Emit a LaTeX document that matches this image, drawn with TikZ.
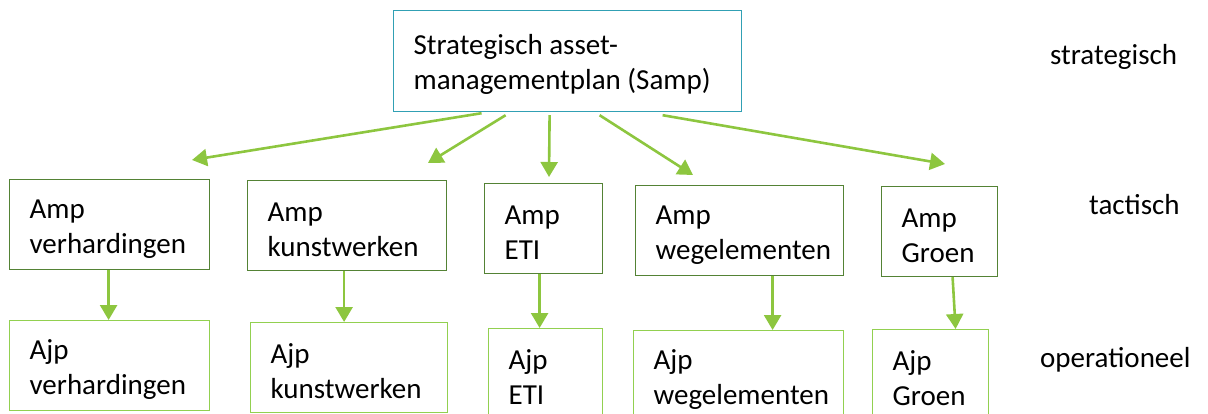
\documentclass[tikz,border=0pt]{standalone}
\usepackage{fontspec}
\setmainfont{Carlito}
\usetikzlibrary{arrows.meta}

\hyphenpenalty=10000

\definecolor{sampblue}{RGB}{49,160,180}
\definecolor{ampgreen}{RGB}{84,130,53}
\definecolor{ajpgreen}{RGB}{146,208,80}
\definecolor{pijlgreen}{RGB}{141,198,63}

\tikzset{
  planbox/.style={draw, line width=1.2pt, anchor=north west, align=flush left,
    inner xsep=20pt, inner ysep=0pt, minimum height=90pt, text height=27pt,
    font=\fontsize{29}{35}\selectfont},
  sampbox/.style={planbox, draw=sampblue, minimum height=101pt},
  ampbox/.style={planbox, draw=ampgreen},
  ajpbox/.style={planbox, draw=ajpgreen},
  niveau/.style={anchor=base west, inner sep=0pt, font=\fontsize{29}{35}\selectfont},
  pijl/.style={draw=pijlgreen, line width=2.6pt, -{Triangle[length=15pt,width=17pt]}}
}

\begin{document}
\begin{tikzpicture}[x=1pt,y=-1pt]
\useasboundingbox (0,0) rectangle (1208,414);
\clip (0,0) rectangle (1208,414);

\node[sampbox, text width=308pt] (samp) at (393,10) {Strategisch asset-\\managementplan (Samp)};

\node[ampbox, text width=160pt] (amp1) at (9,179) {Amp\\verhardingen};
\node[ampbox, text width=159pt] (amp2) at (247,180) {Amp\\kunstwerken};
\node[ampbox, text width=78pt] (amp3) at (484,183) {Amp\\ETI};
\node[ampbox, text width=168pt] (amp4) at (635,185) {Amp\\wegelementen};
\node[ampbox, text width=76pt] (amp5) at (881,186) {Amp\\Groen};

\node[ajpbox, text width=160pt] (ajp1) at (9,320) {Ajp\\verhardingen};
\node[ajpbox, text width=157pt] (ajp2) at (250,322) {Ajp\\kunstwerken};
\node[ajpbox, text width=74pt] (ajp3) at (488,328) {Ajp\\ETI};
\node[ajpbox, text width=170pt] (ajp4) at (633,330) {Ajp\\wegelementen};
\node[ajpbox, text width=76pt] (ajp5) at (872,329) {Ajp\\Groen};

\node[niveau] (strat) at (1050,65) {strategisch};
\node[niveau] (tact) at (1089,215) {tactisch};
\node[niveau] (oper) at (1040,367) {operationeel};

% pijlen vanuit het Samp
\coordinate (p1) at (192,160);
\coordinate (p2) at (428,163);
\coordinate (p3) at (549,177);
\coordinate (p4) at (693,175);
\coordinate (p5) at (945,164);

\draw[pijl] ([xshift=-86pt,yshift=-1pt]samp.south) -- (p1);
\draw[pijl] ([xshift=-62pt,yshift=-3pt]samp.south) -- (p2);
\draw[pijl] ([xshift=-18pt,yshift=-3pt]samp.south) -- (p3);
\draw[pijl] ([xshift=32pt,yshift=-3pt]samp.south) -- (p4);
\draw[pijl] ([xshift=95pt,yshift=-3pt]samp.south) -- (p5);

% van amp naar ajp
\draw[pijl] ([xshift=-1pt]amp1.south) -- ([xshift=-1pt]ajp1.north);
\draw[pijl] ([xshift=-3pt]amp2.south) -- ([xshift=-5pt]ajp2.north);
\draw[pijl] ([xshift=-4pt]amp3.south) -- ([xshift=-6pt]ajp3.north);
\draw[pijl] ([xshift=33pt]amp4.south) -- ([xshift=34pt]ajp4.north);
\draw[pijl] ([xshift=13pt]amp5.south) -- ([xshift=25pt]ajp5.north);
\end{tikzpicture}
\end{document}
